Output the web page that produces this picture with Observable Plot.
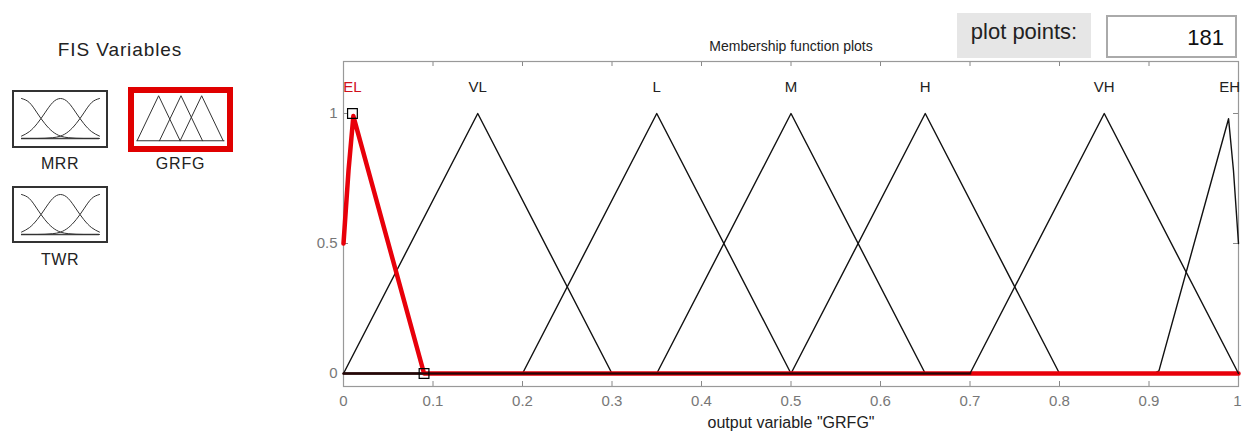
<!DOCTYPE html>
<html>
<head>
<meta charset="utf-8">
<script src="https://cdn.jsdelivr.net/npm/d3@7"></script>
<script src="https://cdn.jsdelivr.net/npm/@observablehq/plot@0.6"></script>
<style>
  html, body { margin: 0; padding: 0; background: #fff; }
  #root { position: relative; width: 1242px; height: 435px; overflow: hidden; background: #fff;
          font-family: "Liberation Sans", Arial, sans-serif; }
  .abs { position: absolute; }
  .lbl { position: absolute; color: #222; font-size: 15px; text-align: center; white-space: nowrap; }
</style>
</head>
<body>
<div id="root"></div>
<script>
// ---------- data ----------
const mfNames   = ["EL", "VL", "L", "M", "H", "VH", "EH"];
const mfLabelX  = [0.01, 0.15, 0.35, 0.5, 0.65, 0.85, 0.99];
const mfPointsX = [
  [0, 0.0056, 0.011, 0.09, 1],
  [0, 0.15, 0.3, 1],
  [0, 0.2, 0.35, 0.5, 1],
  [0, 0.35, 0.5, 0.65, 1],
  [0, 0.5, 0.65, 0.8, 1],
  [0, 0.7, 0.85, 1],
  [0, 0.9056, 0.9111, 0.9889, 0.9944, 1]
];
const mfPointsY = [
  [0.5, 0.78, 0.99, 0, 0],
  [0, 1, 0, 0],
  [0, 0, 1, 0, 0],
  [0, 0, 1, 0, 0],
  [0, 0, 1, 0, 0],
  [0, 0, 1, 0],
  [0, 0, 0.01, 0.98, 0.78, 0.5]
];
const selectedMF = "EL";
const handleX = [0.01, 0.09];
const handleY = [1, 0];
const xTicks = [0, 0.1, 0.2, 0.3, 0.4, 0.5, 0.6, 0.7, 0.8, 0.9, 1];
const yTicks = [0, 0.5, 1];
const xLabel = 'output variable "GRFG"';
const plotTitle = "Membership function plots";
const plotPoints = 181;

// icon data (FIS variable thumbnails)
const varNames = ["MRR", "GRFG", "TWR"];
const bellX = [0, 0.1, 0.2, 0.3, 0.4, 0.5, 0.6, 0.7, 0.8, 0.9, 1];
const bellLeftY  = [1, 0.9, 0.64, 0.37, 0.17, 0.06, 0.02, 0.005, 0, 0, 0];
const bellMidY   = [0.06, 0.17, 0.37, 0.64, 0.9, 1, 0.9, 0.64, 0.37, 0.17, 0.06];
const bellRightY = [0, 0, 0, 0.005, 0.02, 0.06, 0.17, 0.37, 0.64, 0.9, 1];
const triPeaks = [0.22, 0.48, 0.72];
const triHalf  = [0.25, 0.25, 0.25];

// ---------- build table ----------
const rows = [];
mfNames.forEach((n, i) => mfPointsX[i].forEach((x, j) => rows.push({mf: n, x, y: mfPointsY[i][j]})));
const blackUnder = rows.filter(d => d.mf !== selectedMF && d.mf !== "VH");
const redRows = rows.filter(d => d.mf === selectedMF);
const vhRows = rows.filter(d => d.mf === "VH");
const vhZero = vhRows.filter(d => d.y === 0 && d.x < 0.8);
const labels = mfNames.map((n, i) => ({n, x: mfLabelX[i]}));
const handles = handleX.map((x, i) => ({x, y: handleY[i]}));

const W = 1242, H = 435, mL = 343, mR = 4, mT = 61, mB = 49;
const innerW = W - mL - mR, innerH = H - mT - mB;
const font = '"Liberation Sans", Arial, sans-serif';

const chart = Plot.plot({
  width: W, height: H,
  marginLeft: mL, marginRight: mR, marginTop: mT, marginBottom: mB,
  style: {background: "transparent", fontFamily: font},
  x: {domain: [0, 1]},
  y: {domain: [-0.05, 1.2]},
  marks: [
    Plot.axisX(xTicks.filter(t => t < 1), {tickSize: 0, tickPadding: 9, fontSize: 15, fill: "#777", label: null,
      tickFormat: d => String(d)}),
    Plot.text(xTicks.filter(t => t === 1), {x: d => d, frameAnchor: "bottom", dy: 9, lineAnchor: "top",
      textAnchor: "end", dx: 3, fontSize: 15, fill: "#777", text: d => String(d)}),
    Plot.axisY(yTicks, {tickSize: 0, tickPadding: 6, fontSize: 15, fill: "#777", label: null,
      tickFormat: d => String(d)}),
    Plot.ruleX(xTicks, {x: d => d, insetTop: innerH - 5, stroke: "#888"}),
    Plot.ruleX(xTicks, {x: d => d, insetBottom: innerH - 5, stroke: "#888"}),
    Plot.ruleY(yTicks, {y: d => d, insetRight: innerW - 5, stroke: "#888"}),
    Plot.ruleY(yTicks, {y: d => d, insetLeft: innerW - 5, stroke: "#888"}),
    Plot.frame({stroke: "#999", strokeWidth: 1.2}),
    Plot.line(blackUnder, {x: "x", y: "y", z: "mf", stroke: "#111", strokeWidth: 1.4}),
    Plot.line(redRows, {x: "x", y: "y", stroke: "#e8000a", strokeWidth: 4.5}),
    Plot.line(vhRows, {x: "x", y: "y", stroke: "#111", strokeWidth: 1.4}),
    Plot.line(vhZero, {x: "x", y: "y", stroke: "#300", strokeWidth: 3, strokeOpacity: 0.55}),
    Plot.dot(handles, {x: "x", y: "y", symbol: "square", r: 5.5, stroke: "#000", strokeWidth: 1.2, fill: "none"}),
    Plot.text(labels, {x: "x", y: () => 1.1, text: "n", fontSize: 15,
      fill: d => d.n === selectedMF ? "#d0101a" : "#222"}),
    Plot.text([plotTitle], {frameAnchor: "top", dy: -20, fontSize: 14, fill: "#222"}),
    Plot.text([xLabel], {frameAnchor: "bottom", dy: 41, fontSize: 16, fill: "#222"})
  ]
});
chart.style.position = "absolute";
chart.style.left = "0px";
chart.style.top = "0px";
const root = document.getElementById("root");
root.appendChild(chart);

// ---------- left panel ----------
function addText(txt, left, top, w, size, extra) {
  const d = document.createElement("div");
  d.className = "lbl";
  d.style.left = left + "px"; d.style.top = top + "px"; d.style.width = w + "px";
  d.style.fontSize = size + "px";
  if (extra) Object.assign(d.style, extra);
  d.textContent = txt;
  root.appendChild(d);
  return d;
}
addText("FIS Variables", 30, 39, 180, 19, {letterSpacing: "0.9px"});

function bellIcon() {
  const data = [];
  [bellLeftY, bellMidY, bellRightY].forEach((ys, k) => bellX.forEach((x, j) => data.push({k, x, y: ys[j]})));
  return Plot.plot({
    width: 92, height: 54, margin: 0,
    x: {domain: [-0.09, 1.09], axis: null}, y: {domain: [-0.2, 1.15], axis: null},
    style: {background: "transparent"},
    marks: [
      Plot.ruleY([0], {x1: 0, x2: 1, stroke: "#444", strokeWidth: 1.5}),
      Plot.line(data, {x: "x", y: "y", z: "k", curve: "natural", stroke: "#333", strokeWidth: 1})
    ]
  });
}
function triIcon() {
  const data = [];
  triPeaks.forEach((p, k) => {
    data.push({k, x: p - triHalf[k], y: 0}, {k, x: p, y: 1}, {k, x: p + triHalf[k], y: 0});
  });
  return Plot.plot({
    width: 93, height: 54, margin: 0,
    x: {domain: [-0.06, 1.02], axis: null}, y: {domain: [-0.15, 1.05], axis: null},
    style: {background: "transparent"},
    marks: [
      Plot.ruleY([0], {x1: -0.03, x2: 0.99, stroke: "#333", strokeWidth: 1.2}),
      Plot.line(data, {x: "x", y: "y", z: "k", stroke: "#333", strokeWidth: 1})
    ]
  });
}
function box(left, top, w, h, border, el) {
  const d = document.createElement("div");
  d.className = "abs";
  d.style.left = left + "px"; d.style.top = top + "px";
  d.style.width = w + "px"; d.style.height = h + "px";
  d.style.border = border; d.style.boxSizing = "border-box";
  d.style.background = "#fff";
  d.style.display = "flex"; d.style.alignItems = "center"; d.style.justifyContent = "center";
  if (el) d.appendChild(el);
  root.appendChild(d);
  return d;
}
box(12, 90, 96, 58, "2px solid #333", bellIcon());
box(128, 87, 105, 65, "6px solid #e00000", triIcon());
box(12, 186, 96, 57, "2px solid #333", bellIcon());
addText(varNames[0], 18, 155, 84, 16, {letterSpacing: "0.6px"});
addText(varNames[1], 128, 155, 105, 16, {letterSpacing: "0.8px"});
addText(varNames[2], 18, 251, 84, 16, {letterSpacing: "0.6px"});

// ---------- plot points ----------
addText("plot points:", 957, 13, 134, 22, {background: "#e6e6e6", height: "45px", lineHeight: "38px", color: "#222", textAlign: "center"});
addText(String(plotPoints), 1106, 15, 131, 22, {border: "2px solid #aaa", boxSizing: "border-box", height: "43px", lineHeight: "42px", textAlign: "right", paddingRight: "11px", background: "#fff", color: "#111"});
</script>
</body>
</html>
